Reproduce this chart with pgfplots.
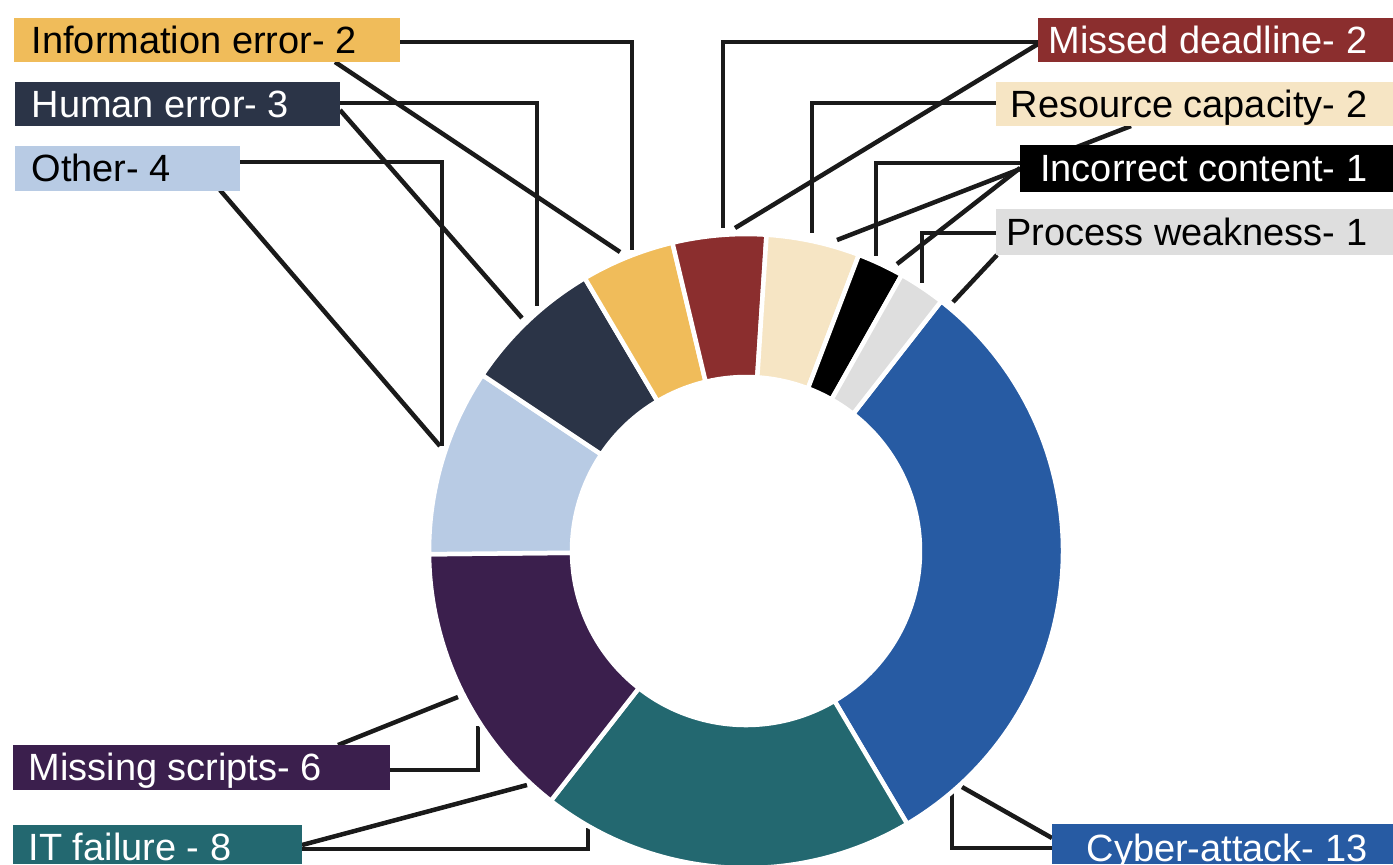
\documentclass[border=0pt]{standalone}
\usepackage{pgfplots}
\usepackage{pgfplotstable}
\pgfplotsset{compat=1.18}
\usepackage{fontspec}
\setmainfont{Liberation Sans}

\definecolor{cCyber}{HTML}{275BA3}
\definecolor{cIT}{HTML}{236870}
\definecolor{cMissing}{HTML}{3B1F4D}
\definecolor{cOther}{HTML}{B8CBE4}
\definecolor{cHuman}{HTML}{2B3447}
\definecolor{cInfo}{HTML}{F0BC5A}
\definecolor{cMissed}{HTML}{8B2E2E}
\definecolor{cResource}{HTML}{F6E5C4}
\definecolor{cIncorrect}{HTML}{000000}
\definecolor{cProcess}{HTML}{DEDEDE}
\definecolor{cLeader}{HTML}{1A1A1A}

\pgfplotstableread{
label value col
Cyber 13 cCyber
IT 8 cIT
Missing 6 cMissing
Other 4 cOther
Human 3 cHuman
Info 2 cInfo
Missed 2 cMissed
Resource 2 cResource
Incorrect 1 cIncorrect
Process 1 cProcess
}\slices

\newcommand\labelfont{\fontsize{10.8pt}{13pt}\selectfont}

\begin{document}
\begin{tikzpicture}
\begin{axis}[
  x=0.1mm, y=0.1mm,
  xmin=0, xmax=1393, ymin=0, ymax=864,
  y dir=reverse,
  enlargelimits=false,
  hide axis, clip=false,
  ld/.style={color=cLeader, line width=0.45mm, solid, mark=none},
]
% leader lines
\addplot[ld] coordinates {(400,42) (632,42) (632,250)};
\addplot[ld] coordinates {(335,62) (620,252)};
\addplot[ld] coordinates {(340,103) (537,103) (537,306)};
\addplot[ld] coordinates {(340,110) (522,318)};
\addplot[ld] coordinates {(240,162) (442,162) (442,446)};
\addplot[ld] coordinates {(220,190) (440,446)};
\addplot[ld] coordinates {(1038,42) (723,42) (723,228)};
\addplot[ld] coordinates {(1038,44) (735,228)};
\addplot[ld] coordinates {(996,103) (812,103) (812,233)};
\addplot[ld] coordinates {(1131,126) (837,240)};
\addplot[ld] coordinates {(1020,163) (876,163) (876,256)};
\addplot[ld] coordinates {(1020,168) (897,264)};
\addplot[ld] coordinates {(996,233) (922,233) (922,283)};
\addplot[ld] coordinates {(997,255) (953,302)};
\addplot[ld] coordinates {(390,770) (478,770) (478,726)};
\addplot[ld] coordinates {(338,745) (458,697)};
\addplot[ld] coordinates {(302,849) (588,849) (588,828)};
\addplot[ld] coordinates {(302,845) (527,785)};
\addplot[ld] coordinates {(1052,848) (952,848) (952,792)};
\addplot[ld] coordinates {(1052,838) (962,787)};

% donut
\pgfplotsextra{
  \pgfplotstablegetrowsof{\slices}
  \pgfmathtruncatemacro{\nlast}{\pgfplotsretval-1}
  \gdef\total{0}
  \foreach \i in {0,...,\nlast}{
    \pgfplotstablegetelem{\i}{value}\of{\slices}
    \pgfmathsetmacro{\tmp}{\total+\pgfplotsretval}
    \xdef\total{\tmp}
  }
  \gdef\cum{0}
  \foreach \i in {0,...,\nlast}{
    \pgfplotstablegetelem{\i}{value}\of{\slices}
    \let\sliceval\pgfplotsretval
    \pgfplotstablegetelem{\i}{col}\of{\slices}
    \let\slicecol\pgfplotsretval
    \pgfmathsetmacro{\angA}{52-360*\cum/\total}
    \pgfmathsetmacro{\tmp}{\cum+\sliceval}
    \xdef\cum{\tmp}
    \pgfmathsetmacro{\angB}{52-360*\cum/\total}
    \filldraw[fill=\slicecol, draw=white, line width=0.45mm, line join=miter]
      ([shift={(\angA:31.7mm)}]axis cs:746,551)
      arc[start angle=\angA, end angle=\angB, radius=31.7mm]
      -- ([shift={(\angB:17.4mm)}]axis cs:746,551)
      arc[start angle=\angB, end angle=\angA, radius=17.4mm]
      -- cycle;
  }
}

% label boxes
\fill[cInfo] (axis cs:14,18) rectangle (axis cs:400,62);
\node[anchor=base west, inner sep=0, font=\labelfont, text=black] at (axis cs:31,53) {Information error- 2};
\fill[cHuman] (axis cs:15,82) rectangle (axis cs:340,126);
\node[anchor=base west, inner sep=0, font=\labelfont, text=white] at (axis cs:31,117) {Human error- 3};
\fill[cOther] (axis cs:15,146) rectangle (axis cs:240,191);
\node[anchor=base west, inner sep=0, font=\labelfont, text=black] at (axis cs:31,181) {Other- 4};

\fill[cMissed] (axis cs:1038,18) rectangle (axis cs:1393,62);
\node[anchor=base east, inner sep=0, font=\labelfont, text=white] at (axis cs:1368,53) {Missed deadline- 2};
\fill[cResource] (axis cs:996,82) rectangle (axis cs:1393,126);
\node[anchor=base east, inner sep=0, font=\labelfont, text=black] at (axis cs:1368,117) {Resource capacity- 2};
\fill[cIncorrect] (axis cs:1020,145) rectangle (axis cs:1393,192);
\node[anchor=base east, inner sep=0, font=\labelfont, text=white] at (axis cs:1368,181) {Incorrect content- 1};
\fill[cProcess] (axis cs:996,209) rectangle (axis cs:1393,255);
\node[anchor=base east, inner sep=0, font=\labelfont, text=black] at (axis cs:1368,245) {Process weakness- 1};

\fill[cMissing] (axis cs:13,745) rectangle (axis cs:390,790);
\node[anchor=base west, inner sep=0, font=\labelfont, text=white] at (axis cs:28,780) {Missing scripts- 6};
\fill[cIT] (axis cs:13,825) rectangle (axis cs:302,864);
\node[anchor=base west, inner sep=0, font=\labelfont, text=white] at (axis cs:28,860) {IT failure - 8};
\fill[cCyber] (axis cs:1052,824) rectangle (axis cs:1393,864);
\node[anchor=base east, inner sep=0, font=\labelfont, text=white] at (axis cs:1368,861) {Cyber-attack- 13};
\end{axis}
\pgfresetboundingbox
\path[use as bounding box] (current axis.south west) rectangle (current axis.north east);
\end{tikzpicture}
\end{document}
